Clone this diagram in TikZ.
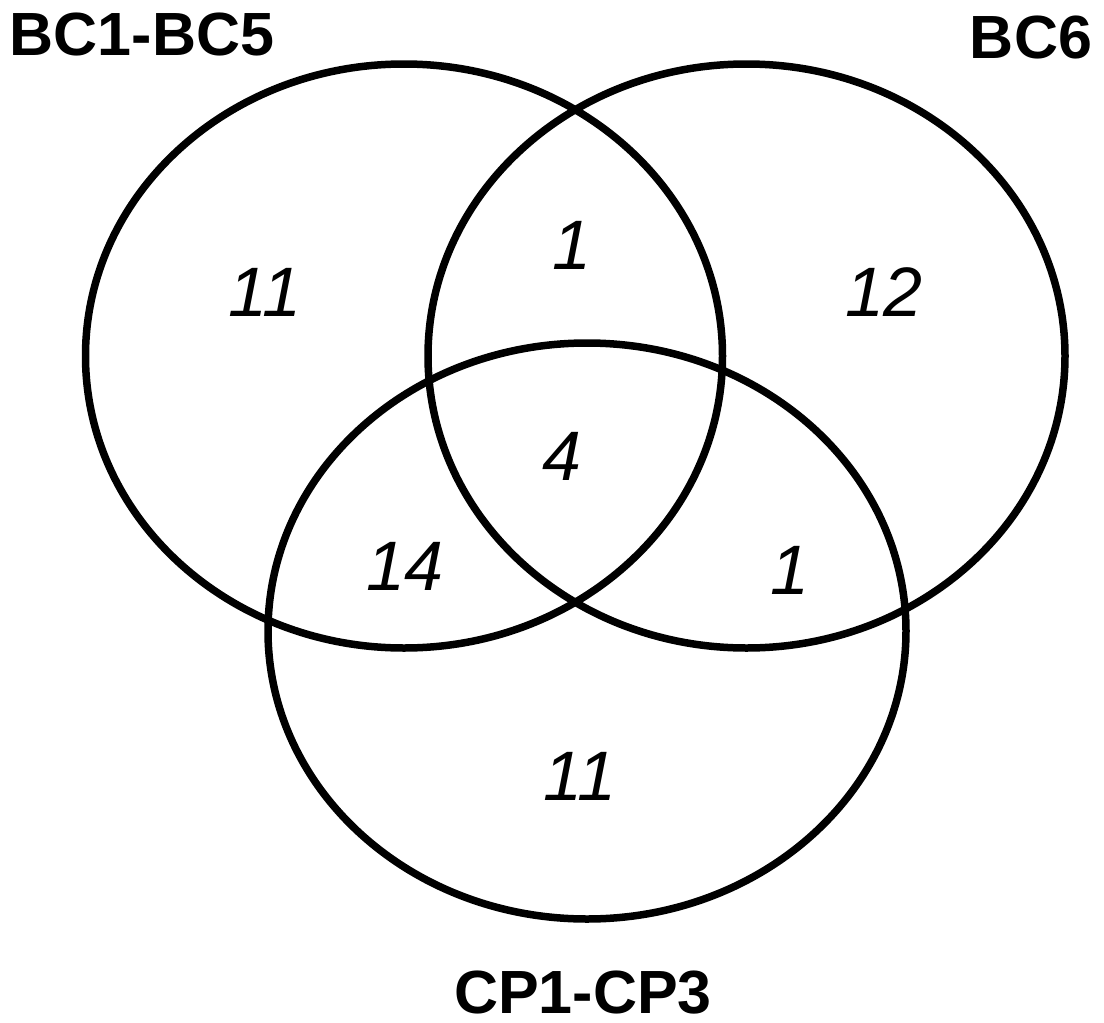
\documentclass[tikz,border=0pt]{standalone}
\usepackage{fontspec}
\setmainfont{Liberation Sans}
\begin{document}
\begin{tikzpicture}[x=1pt,y=-1pt,
  setring/.style={draw=black,line width=7.5pt},
  setlabel/.style={inner sep=0pt,font=\fontsize{61}{64}\selectfont\bfseries},
  count/.style={inner sep=0pt,font=\fontsize{70}{72}\selectfont\itshape}]
\path[use as bounding box] (0,0) rectangle (1104,1023);
\draw[setring] (404,356) ellipse [x radius=318.5, y radius=292];
\draw[setring] (746.5,356) ellipse [x radius=318.5, y radius=292];
\draw[setring] (587,631) ellipse [x radius=319, y radius=288];
\node[setlabel] (lA) at (142,34) {BC1-BC5};
\node[setlabel] (lB) at (1031,37) {BC6};
\node[setlabel] (lC) at (583,993) {CP1-CP3};
\node[count] (nA) at (265,292) {11};
\node[count] (nAB) at (572,245) {1};
\node[count] (nB) at (884,292) {12};
\node[count] (nABC) at (562,456) {4};
\node[count] (nAC) at (405,566) {14};
\node[count] (nBC) at (790,570) {1};
\node[count] (nC) at (580,776) {11};
\end{tikzpicture}
\end{document}
